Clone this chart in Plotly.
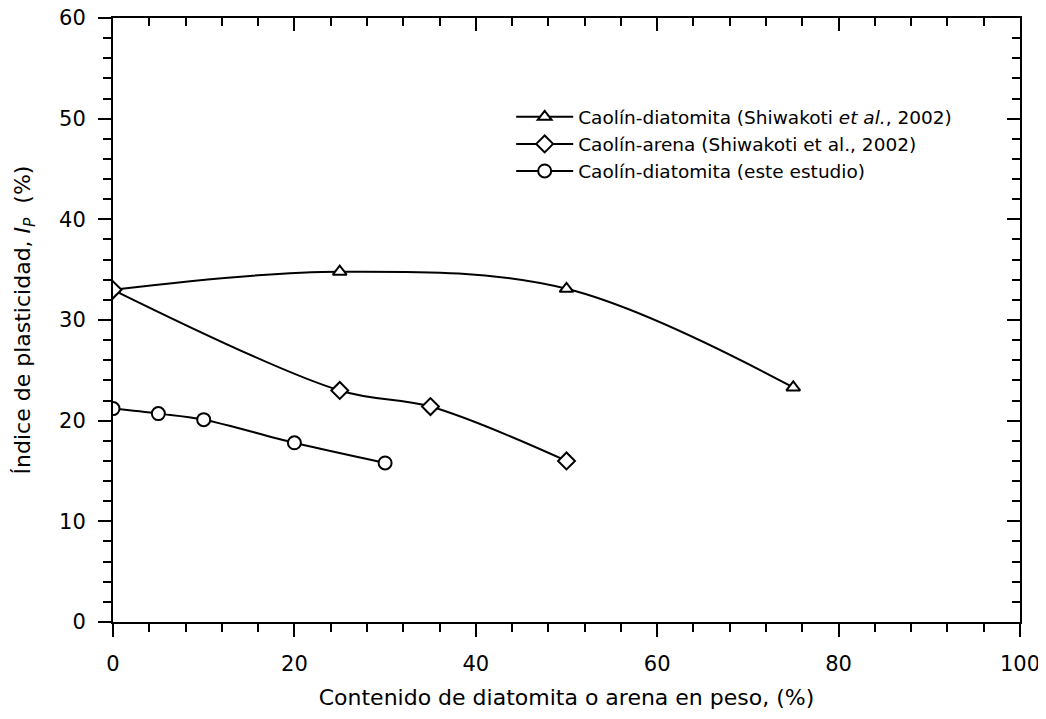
import plotly.graph_objects as go

# Caolín-diatomita (Shiwakoti et al., 2002)
x_kd_shiw = [0, 25, 50, 75]
ip_kd_shiw = [33.0, 34.8, 33.1, 23.3]

# Caolín-arena (Shiwakoti et al., 2002)
x_ka_shiw = [0, 25, 35, 50]
ip_ka_shiw = [33.0, 23.0, 21.4, 16.0]

# Caolín-diatomita (este estudio)
x_kd_est = [0, 5, 10, 20, 30]
ip_kd_est = [21.2, 20.7, 20.1, 17.8, 15.8]

FONT = "DejaVu Sans"

fig = go.Figure()

fig.add_trace(go.Scatter(
    x=x_kd_shiw, y=ip_kd_shiw, mode='lines+markers',
    name='Caolín-diatomita (Shiwakoti <i>et al.</i>, 2002)',
    line=dict(color='black', width=2, shape='spline'),
    marker=dict(symbol='triangle-up', size=12, color='white',
                line=dict(color='black', width=2)),
))
fig.add_trace(go.Scatter(
    x=x_ka_shiw, y=ip_ka_shiw, mode='lines+markers',
    name='Caolín-arena (Shiwakoti et al., 2002)',
    line=dict(color='black', width=2, shape='spline'),
    marker=dict(symbol='diamond', size=13, color='white',
                line=dict(color='black', width=2)),
))
fig.add_trace(go.Scatter(
    x=x_kd_est, y=ip_kd_est, mode='lines+markers',
    name='Caolín-diatomita (este estudio)',
    line=dict(color='black', width=2, shape='spline'),
    marker=dict(symbol='circle', size=13, color='white',
                line=dict(color='black', width=2)),
))

axis_common = dict(showgrid=False, zeroline=False, showline=True,
                   linecolor='black', linewidth=2, tickcolor='black',
                   tickwidth=2, ticklen=13, automargin=False)

# page body adds 8px offset, margins compensate for it
fig.update_layout(
    width=1046, height=719,
    margin=dict(l=105, r=34, t=10, b=105),
    paper_bgcolor='white', plot_bgcolor='white',
    font=dict(family=FONT, color='black'),
    xaxis=dict(**axis_common, range=[0, 100], dtick=20, ticks='outside',
               minor=dict(dtick=4, ticks='outside', ticklen=8, tickwidth=2, tickcolor='black'),
               tickfont=dict(size=21), ticklabelstandoff=9, ticklabeloverflow='allow',
               title=dict(text='Contenido de diatomita o arena en peso, (%)',
                          font=dict(size=22), standoff=14)),
    yaxis=dict(**axis_common, range=[0, 60], dtick=10, ticks='outside',
               minor=dict(dtick=2, ticks='outside', ticklen=8, tickwidth=2, tickcolor='black'),
               tickfont=dict(size=21), ticklabelstandoff=8, ticklabeloverflow='allow',
               title=dict(text='Índice de plasticidad, <i>I</i><sub><i>P</i></sub>  (%)',
                          font=dict(size=22), standoff=22)),
    xaxis2=dict(**axis_common, range=[0, 100], dtick=20, ticks='inside',
                overlaying='x', side='top', anchor='y', showticklabels=False,
                minor=dict(dtick=4, ticks='inside', ticklen=8, tickwidth=2, tickcolor='black')),
    yaxis2=dict(**axis_common, range=[0, 60], dtick=10, ticks='inside',
                overlaying='y', side='right', anchor='x', showticklabels=False,
                minor=dict(dtick=2, ticks='inside', ticklen=8, tickwidth=2, tickcolor='black')),
    showlegend=True,
    legend=dict(x=0.439, y=0.867, xanchor='left', yanchor='top',
                bgcolor='rgba(0,0,0,0)', font=dict(size=18.5, family=FONT),
                itemwidth=57, tracegroupgap=0),
)

# invisible trace so the mirrored top/right axes are drawn
fig.add_trace(go.Scatter(x=[None], y=[None], xaxis='x2', yaxis='y2',
                         showlegend=False, hoverinfo='skip'))

fig.write_html("out.html")
